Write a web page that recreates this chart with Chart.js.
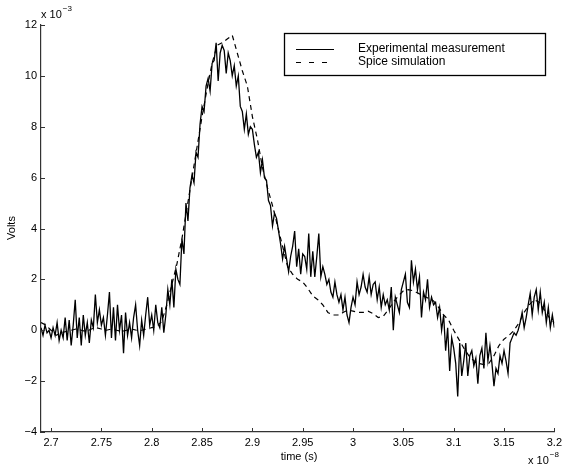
<!DOCTYPE html>
<html>
<head>
<meta charset="utf-8">
<script src="https://cdn.jsdelivr.net/npm/chart.js@4.4.1/dist/chart.umd.min.js"></script>
<style>
  html, body { margin: 0; padding: 0; background: #fff; }
</style>
</head>
<body>
<canvas id="grafica" width="566" height="467"></canvas>
<script>
// tiempo en unidades de 1e-8 s, tension en unidades de 1e-3 V
const xTicks = [2.7, 2.75, 2.8, 2.85, 2.9, 2.95, 3, 3.05, 3.1, 3.15, 3.2];
const yTicks = [-4, -2, 0, 2, 4, 6, 8, 10, 12];

// medida experimental, muestreada cada 0.002e-8 s desde 2.69e-8 s
const medidaInicio = 2.69;
const medidaPaso = 0.002;
const medidaVolts = [
  0.1, -0.2, 0.2, -0.1, 0.0, -0.3, 0.1, -0.2, 0.3, -0.4,
  0.0, -0.3, 0.5, -0.4, 0.4, -0.6, 0.2, 1.2, -0.3, 0.5,
  -0.6, 0.6, -0.2, 0.3, -0.5, 0.4, 0.1, 1.4, 0.3, 0.8,
  0.2, 0.5, -0.2, 0.6, 1.5, -0.3, 0.9, -0.4, 1.0, 0.0,
  0.6, -0.9, 0.7, -0.2, 0.3, -0.3, 0.5, 1.0, 0.0, -0.6,
  0.4, -0.2, 0.6, 1.3, 0.2, 0.6, 0.0, 1.0, 0.3, 0.1,
  0.9, -0.1, 0.6, 1.6, 1.0, 2.0, 0.9, 2.4, 2.0, 1.8,
  3.6, 3.0, 5.0, 4.3, 5.6, 6.1, 5.8, 7.0, 6.8, 8.1,
  8.8, 8.6, 9.6, 9.9, 9.4, 10.5, 10.6, 11.3, 9.8, 10.9,
  11.2, 11.0, 10.1, 10.9, 10.6, 10.0, 10.4, 9.6, 10.0, 8.8,
  8.6, 7.9, 8.5, 7.7, 8.0, 7.9, 7.3, 6.8, 7.0, 6.2,
  6.7, 6.0, 5.9, 5.1, 4.9, 4.1, 4.6, 4.4, 3.9, 3.4,
  2.8, 3.3, 2.8, 2.3, 2.9, 3.3, 3.9, 2.5, 3.2, 2.2,
  3.0, 2.9, 2.4, 3.8, 2.1, 3.1, 2.1, 2.9, 3.8, 2.1,
  2.5, 2.2, 1.8, 2.0, 1.5, 1.3, 1.9, 1.4, 1.1, 1.4,
  0.8, 1.3, 0.6, 0.3, 0.9, 1.3, 1.0, 1.9, 1.4, 1.7,
  2.2, 1.7, 1.5, 2.1, 1.4, 1.8, 1.9, 1.2, 1.7, 0.9,
  1.4, 1.0, 1.2, 0.8, 1.7, 0.0, 1.3, 1.0, 0.7, 1.6,
  1.9, 2.2, 1.1, 0.9, 2.75, 1.9, 2.4, 1.6, 2.1, 0.5,
  1.5, 1.2, 2.0, 0.9, 1.3, 1.0, 1.1, 0.5, 0.9, 0.0,
  0.6, -0.8, 0.1, -1.6, -0.3, -0.7, -1.3, -2.6, -0.5, -1.8,
  -1.2, -0.5, -1.8, -1.0, -0.8, -1.4, -1.1, -2.1, -1.0, -0.7,
  -1.5, -0.1, -1.2, -0.6, -1.3, -2.2, -1.5, -1.7, -1.0, -1.3,
  -0.8, -1.2, -1.7, -0.5, -0.3, -0.1, -0.2, 0.0, 0.3, 0.7,
  0.1, 0.5, 1.0, 1.45, 0.6, 1.3, 1.6, 0.8, 1.5, 0.7,
  1.1, 0.3, 0.9, 0.1, 0.6, 0.1
];

// simulacion Spice, cada 0.005e-8 s desde 2.69e-8 s
const spiceInicio = 2.69;
const spicePaso = 0.005;
const spiceVolts = [
  0.3, 0.2, 0.0, -0.2, -0.1, -0.05, 0.0, 0.05, 0.0, -0.05,
  0.05, 0.1, 0.05, 0.0, 0.05, 0.0, -0.05, 0.0, 0.05, 0.0,
  0.0, 0.05, 0.1, 0.15, 0.35, 1.0, 1.8, 2.6, 3.6, 4.8,
  6.0, 7.2, 8.4, 9.5, 10.5, 11.2, 11.3, 11.45, 11.6, 10.9,
  10.2, 9.6, 8.4, 7.5, 6.4, 5.6, 4.9, 4.1, 3.3, 2.5,
  2.2, 2.0, 1.9, 1.65, 1.35, 1.2, 1.0, 0.7, 0.6, 0.6,
  0.7, 0.8, 0.75, 0.7, 0.7, 0.75, 0.65, 0.5, 0.55, 0.8,
  1.1, 1.35, 1.55, 1.6, 1.55, 1.45, 1.35, 1.25, 1.15, 0.9,
  0.6, 0.4, 0.0, -0.35, -0.7, -1.0, -1.2, -1.3, -1.35, -1.3,
  -1.0, -0.6, -0.35, -0.2, 0.0, 0.3, 0.7, 1.0, 1.2, 1.1,
  0.8, 0.5, 0.3
];

const etiquetas = ['Experimental measurement', 'Spice simulation'];

const puntos = (inicio, paso, valores) =>
  valores.map((v, i) => ({ x: +(inicio + i * paso).toFixed(4), y: v }));

const fuente = 'Liberation Sans, Arial, Helvetica, sans-serif';

// ejes al estilo matlab: marcas hacia dentro, leyenda en caja, exponentes
const decoracion = {
  id: 'decoracion',
  afterDraw(chart) {
    const ctx = chart.ctx;
    const area = chart.chartArea;
    const sx = chart.scales.x;
    const sy = chart.scales.y;
    ctx.save();
    ctx.strokeStyle = '#333';
    ctx.lineWidth = 1;
    ctx.beginPath();
    sx.ticks.forEach(t => {
      const px = Math.round(sx.getPixelForValue(t.value)) + 0.5;
      ctx.moveTo(px, area.bottom);
      ctx.lineTo(px, area.bottom - 4);
    });
    sy.ticks.forEach(t => {
      const py = Math.round(sy.getPixelForValue(t.value)) + 0.5;
      ctx.moveTo(area.left, py);
      ctx.lineTo(area.left + 4, py);
    });
    ctx.stroke();

    // leyenda
    ctx.strokeStyle = '#000';
    ctx.fillStyle = '#fff';
    ctx.fillRect(284, 33, 261, 42);
    ctx.lineWidth = 1.3;
    ctx.strokeRect(284.5, 33.5, 261, 42);
    ctx.lineWidth = 1.2;
    ctx.beginPath();
    ctx.moveTo(296, 49.5); ctx.lineTo(334, 49.5);
    ctx.stroke();
    ctx.setLineDash([5, 8]);
    ctx.beginPath();
    ctx.moveTo(296, 62.5); ctx.lineTo(334, 62.5);
    ctx.stroke();
    ctx.setLineDash([]);
    ctx.fillStyle = '#000';
    ctx.font = '12px ' + fuente;
    ctx.textBaseline = 'middle';
    ctx.textAlign = 'left';
    ctx.fillText(chart.data.datasets[0].label, 358, 49);
    ctx.fillText(chart.data.datasets[1].label, 358, 62);

    // titulos de ejes
    ctx.font = '11px ' + fuente;
    ctx.textAlign = 'center';
    ctx.fillText('time (s)', 299, 457);
    ctx.save();
    ctx.translate(12, 228);
    ctx.rotate(-Math.PI / 2);
    ctx.fillText('Volts', 0, 0);
    ctx.restore();

    // factores de escala
    ctx.textAlign = 'left';
    const exponente = (x, y, e) => {
      ctx.font = '11px ' + fuente;
      ctx.fillText('x 10', x, y);
      const w = ctx.measureText('x 10').width;
      ctx.font = '8px ' + fuente;
      ctx.fillText(e, x + w + 1, y - 6);
    };
    exponente(41, 15, '\u22123');
    exponente(528, 461, '\u22128');
    ctx.restore();
  }
};

new Chart(document.getElementById('grafica'), {
  type: 'line',
  data: {
    datasets: [
      {
        label: etiquetas[0],
        data: puntos(medidaInicio, medidaPaso, medidaVolts),
        borderColor: '#000',
        borderWidth: 1.3,
        pointRadius: 0,
        tension: 0
      },
      {
        label: etiquetas[1],
        data: puntos(spiceInicio, spicePaso, spiceVolts),
        borderColor: '#000',
        borderWidth: 1.2,
        borderDash: [5, 4],
        pointRadius: 0,
        tension: 0
      }
    ]
  },
  options: {
    responsive: false,
    animation: false,
    layout: { padding: { left: 0, top: 25, right: 9, bottom: 0 } },
    plugins: {
      legend: { display: false },
      tooltip: { enabled: false }
    },
    scales: {
      x: {
        type: 'linear',
        min: 2.69,
        max: 3.2,
        afterBuildTicks: s => { s.ticks = xTicks.map(v => ({ value: v })); },
        afterFit: s => { s.height = 35; },
        grid: { display: false, drawTicks: false },
        border: { display: true, color: '#333', width: 1.2 },
        ticks: {
          padding: 4,
          color: '#000',
          maxRotation: 0,
          autoSkip: false,
          font: { family: fuente, size: 11 },
          callback: v => String(+v.toFixed(2))
        }
      },
      y: {
        min: -4,
        max: 12,
        afterBuildTicks: s => { s.ticks = yTicks.map(v => ({ value: v })); },
        afterFit: s => { s.width = 41; },
        grid: { display: false, drawTicks: false },
        border: { display: true, color: '#333', width: 1.2 },
        ticks: {
          padding: 4,
          color: '#000',
          autoSkip: false,
          font: { family: fuente, size: 11 },
          callback: v => (v < 0 ? '\u2212' + (-v) : String(v))
        }
      }
    }
  },
  plugins: [decoracion]
});
</script>
</body>
</html>
